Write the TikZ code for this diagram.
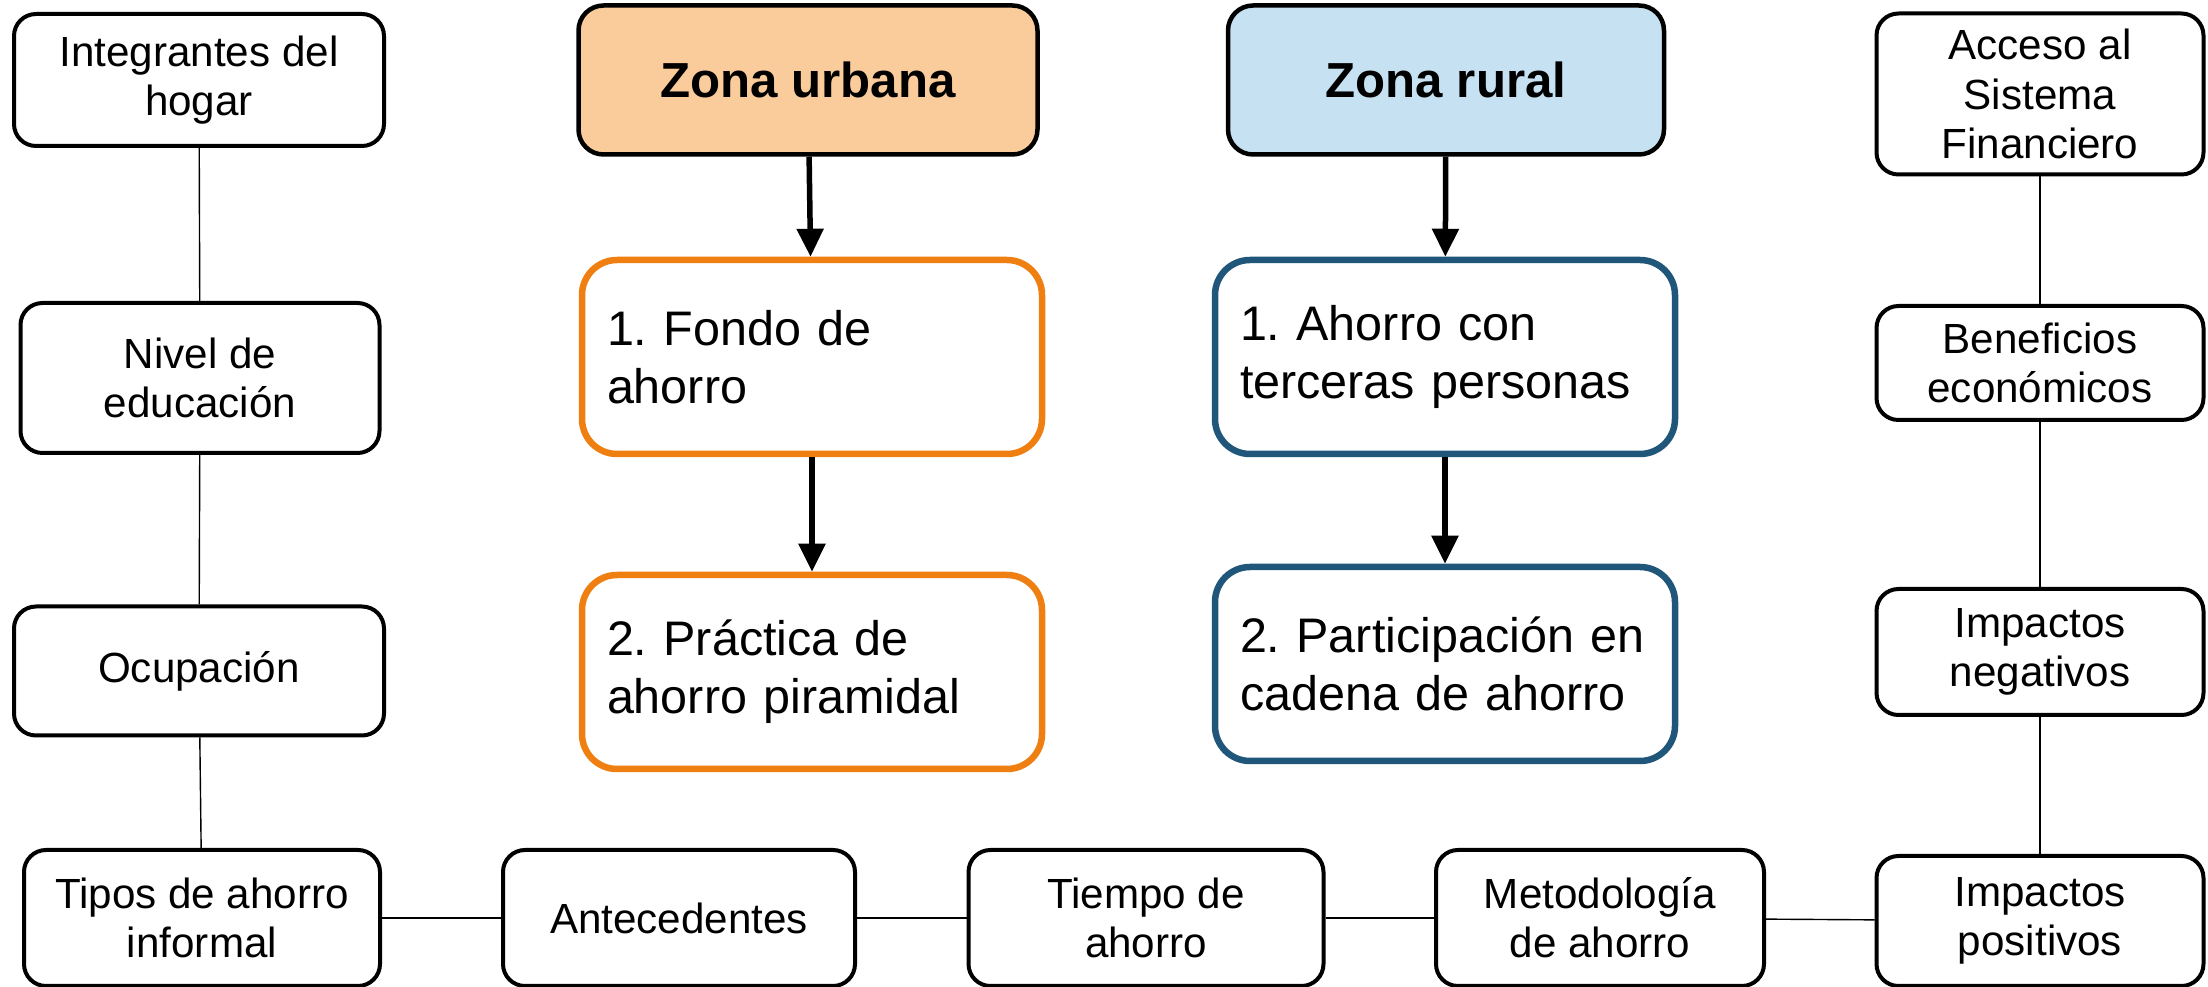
\documentclass[tikz,border=0pt]{standalone}
\usepackage{fontspec}
\setmainfont{Liberation Sans}
\usetikzlibrary{arrows.meta}
\definecolor{urbfill}{HTML}{FACB9B}
\definecolor{rurfill}{HTML}{C6E2F2}
\definecolor{urbline}{HTML}{EE7F10}
\definecolor{rurline}{HTML}{1F567A}
\frenchspacing

\begin{document}
\begin{tikzpicture}[x=0.1mm, y=-0.1mm,
    tema/.style={draw, line width=0.4mm, rounded corners=2.2mm, fill=white,
        align=center, inner sep=1pt, font=\fontsize{12}{14}\selectfont},
    zona/.style={draw, line width=0.45mm, rounded corners=2.5mm,
        minimum height=14.9mm, font=\bfseries\fontsize{14}{17}\selectfont},
    paso/.style={draw, line width=0.65mm, rounded corners=3.5mm, fill=white,
        align=left, text width=41mm, inner xsep=2.5mm, minimum height=19.4mm,
        font=\fontsize{13.8}{16.5}\selectfont},
    enlace/.style={line width=0.4pt},
    flecha/.style={line width=0.55mm, -{Triangle[length=2.8mm, width=2.6mm]}}]

    \useasboundingbox (0,0) rectangle (2208,987);

    % left column
    \node[tema, minimum width=37mm, minimum height=13.2mm] (hogar) at (199,80) {Integrantes del\\hogar};
    \node[tema, minimum width=35.9mm, minimum height=15mm] (educ) at (200,378) {Nivel de\\educación};
    \node[tema, minimum width=37mm, minimum height=12.9mm] (ocup) at (199,671) {Ocupación};
    \node[tema, minimum width=35.6mm, minimum height=13.6mm] (tipos) at (202,918) {Tipos de ahorro\\informal};

    % bottom row
    \node[tema, minimum width=35.2mm, minimum height=13.6mm] (antec) at (679,918) {Antecedentes};
    \node[tema, minimum width=35.5mm, minimum height=13.6mm] (tiempo) at (1146,918) {Tiempo de\\ahorro};
    \node[tema, minimum width=32.8mm, minimum height=13.6mm] (metodo) at (1600,918) {Metodología\\de ahorro};

    % right column
    \node[tema, minimum width=32.7mm, minimum height=13mm] (positivos) at (2040,921) {Impactos\\positivos};
    \node[tema, minimum width=32.7mm, minimum height=12.6mm] (negativos) at (2040,652) {Impactos\\negativos};
    \node[tema, minimum width=32.7mm, minimum height=11.4mm] (benef) at (2040,363) {Beneficios\\económicos};
    \node[tema, minimum width=32.7mm, minimum height=16.1mm] (acceso) at (2040,94) {Acceso al\\Sistema\\Financiero};

    % zones
    \node[zona, fill=urbfill, minimum width=45.9mm] (urbana) at (808,80) {Zona urbana};
    \node[paso, draw=urbline] (fondo) at (812,357) {1. Fondo de\\ahorro};
    \node[paso, draw=urbline] (piramide) at (812,672) {2. Práctica de\\ahorro piramidal};

    \node[zona, fill=rurfill, minimum width=43.6mm] (rural) at (1446,80) {Zona rural};
    \node[paso, draw=rurline] (terceras) at (1445,357) {1. Ahorro con\\terceras personas};
    \node[paso, draw=rurline] (cadena) at (1445,664) {2. Participación en\\cadena de ahorro};

    \foreach \a/\b in {hogar/educ, educ/ocup, ocup/tipos, tipos/antec, antec/tiempo,
        tiempo/metodo, metodo/positivos, positivos/negativos, negativos/benef, benef/acceso} {
        \draw[enlace] (\a) -- (\b);
    }

    \draw[flecha] (urbana) -- (fondo);
    \draw[flecha] (fondo) -- (piramide);
    \draw[flecha] (rural) -- (terceras);
    \draw[flecha] (terceras) -- (cadena);
\end{tikzpicture}
\end{document}
